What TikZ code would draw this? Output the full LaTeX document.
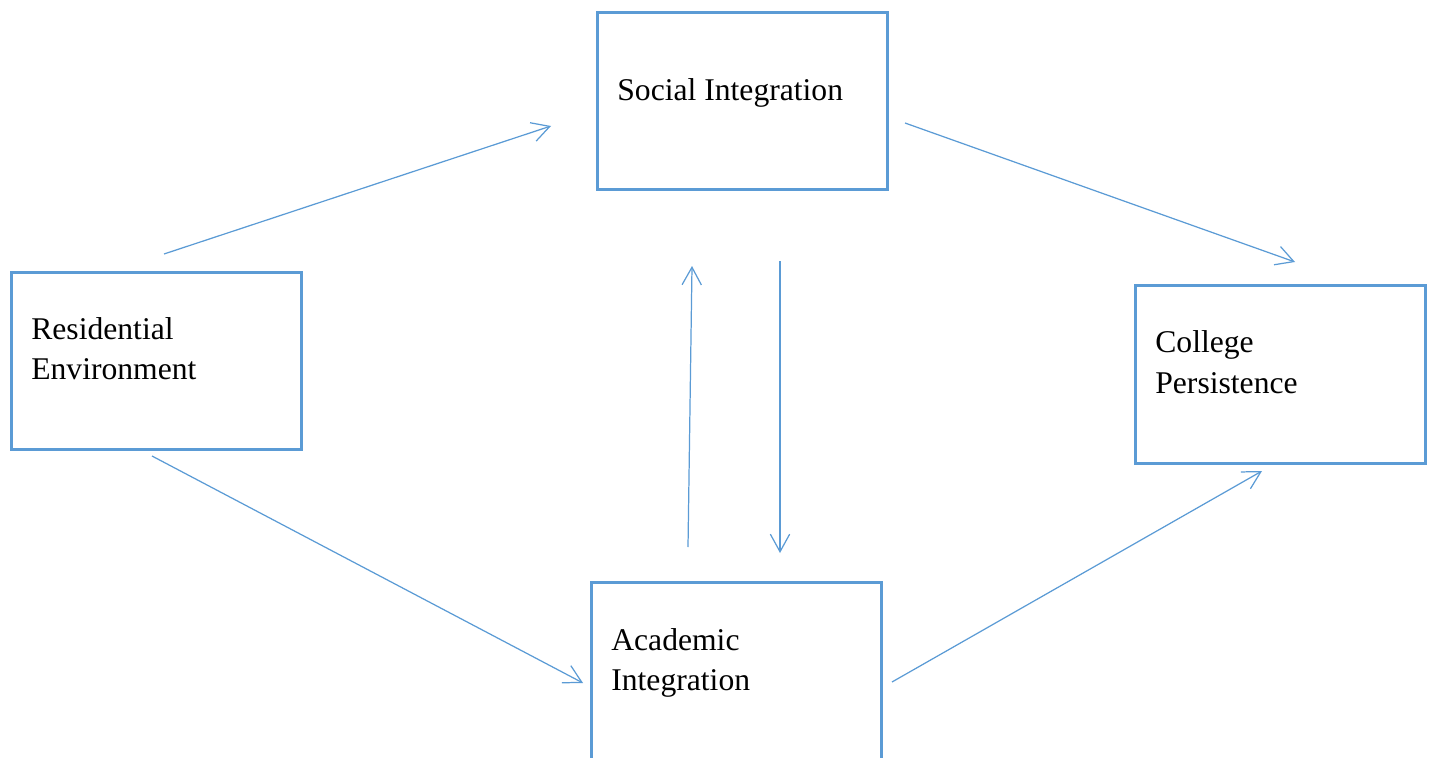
\documentclass[tikz,border=0pt]{standalone}
\usepackage{fontspec}
\setmainfont{Liberation Serif}
\usetikzlibrary{arrows.meta}
\definecolor{boxblue}{HTML}{5B9BD5}
\begin{document}
\begin{tikzpicture}[x=0.02cm,y=-0.02cm,
  framebox/.style={draw=boxblue,line width=1.6pt,fill=none,inner sep=0pt,anchor=north west},
  lbl/.style={inner sep=0pt,anchor=base west,align=left,font=\fontsize{18}{22.7}\selectfont},
  link/.style={draw=boxblue,line width=0.7pt,-{Straight Barb[length=10pt,width=11pt,line width=0.7pt]}}]
  \useasboundingbox (0,0) rectangle (1429,757);

  % boxes
  \node[framebox,minimum width=290*0.02cm,minimum height=177*0.02cm] (soc) at (596,11) {};
  \node[framebox,minimum width=290*0.02cm,minimum height=177*0.02cm] (res) at (10,271) {};
  \node[framebox,minimum width=290*0.02cm,minimum height=178*0.02cm] (col) at (1134,284) {};
  \node[framebox,minimum width=290*0.02cm,minimum height=220*0.02cm] (aca) at (590,581) {};

  % labels
  \node[lbl] (socT) at (617,100) {Social Integration};
  \node[lbl] (resT) at (31,339) {Residential};
  \node[lbl] (resB) at (31,379) {Environment};
  \node[lbl] (colT) at (1155,352) {College};
  \node[lbl] (colB) at (1155,393) {Persistence};
  \node[lbl] (acaT) at (611,650) {Academic};
  \node[lbl] (acaB) at (611,690) {Integration};

  % connector ends
  \coordinate (r1) at (164,254);  \coordinate (s1) at (551,126);
  \coordinate (s2) at (905,123);  \coordinate (c1) at (1295,262);
  \coordinate (r2) at (152,456);  \coordinate (a1) at (583,683);
  \coordinate (a2) at (892,682);  \coordinate (c2) at (1262,471);
  \coordinate (a3) at (688,547);  \coordinate (s3) at (692,266);
  \coordinate (s4) at (780,261);  \coordinate (a4) at (780,553);

  % connectors
  \draw[link] (r1) -- (s1);
  \draw[link] (s2) -- (c1);
  \draw[link] (r2) -- (a1);
  \draw[link] (a2) -- (c2);
  \draw[link] (a3) -- (s3);
  \draw[link] (s4) -- (a4);
\end{tikzpicture}
\end{document}
